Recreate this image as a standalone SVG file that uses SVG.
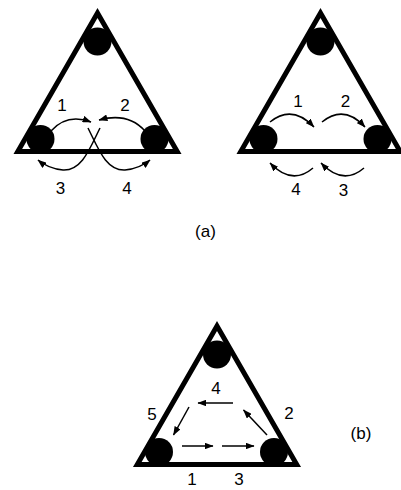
<svg xmlns="http://www.w3.org/2000/svg" width="401" height="490" viewBox="0 0 401 490">
<style>
.tri{fill:none;stroke:#000;stroke-width:5;stroke-linejoin:miter}
.ball{fill:#000}
.arr{fill:none;stroke:#000;stroke-width:1.5;marker-end:url(#ah)}
text{font-family:"Liberation Sans",Arial,sans-serif;font-size:17px;fill:#000;text-anchor:middle}
</style>
<defs>
<marker id="ah" markerUnits="userSpaceOnUse" viewBox="0 0 8 6" markerWidth="9" markerHeight="6.75" refX="7.5" refY="3" orient="auto">
<path d="M0,0 L8,3 L0,6 z" fill="#000"/>
</marker>
</defs>
<rect width="401" height="490" fill="#fff"/>
<g id="tri-a1">
<polygon class="tri" points="97.5,13 17.8,151.5 177.2,151.5"/>
<circle class="ball" cx="97.5" cy="41.5" r="14"/>
<circle class="ball" cx="40.5" cy="139" r="14"/>
<circle class="ball" cx="154.5" cy="139" r="14"/>
</g>
<g id="tri-a2">
<polygon class="tri" points="320.5,13 240.8,151.5 400.2,151.5"/>
<circle class="ball" cx="320.5" cy="41.5" r="14"/>
<circle class="ball" cx="263.5" cy="139" r="14"/>
<circle class="ball" cx="377.5" cy="139" r="14"/>
</g>
<g id="tri-b">
<polygon class="tri" points="217,326 137.3,464.5 296.7,464.5"/>
<circle class="ball" cx="217" cy="354.5" r="14"/>
<circle class="ball" cx="159" cy="452" r="14"/>
<circle class="ball" cx="274" cy="452" r="14"/>
</g>
<g id="connectors">
<path class="arr" d="M51,131 Q67,113 91,122"/>
<path class="arr" d="M145,131 Q128,112 99,120"/>
<path class="arr" d="M88,128 C98,148 106,171 125,170 C136,169 144,165 150,160"/>
<path class="arr" d="M100,128 C90,148 82,171 63,170 C52,169 44,165 38,160"/>
<path class="arr" d="M270,122 Q292,104 314,127"/>
<path class="arr" d="M322,122 Q344,104 365,127"/>
<path class="arr" d="M313,168 Q292,186 270,163"/>
<path class="arr" d="M364,168 Q343,186 321,163"/>
<path class="arr" d="M182,446 L213,446"/>
<path class="arr" d="M222,446 L254,446"/>
<path class="arr" d="M267,435 L243.5,410"/>
<path class="arr" d="M233,403 L198,403"/>
<path class="arr" d="M189,407 L173.5,435"/>
</g>
<g id="labels">
<text x="62" y="111">1</text>
<text x="125" y="111">2</text>
<text x="60.5" y="194">3</text>
<text x="127" y="194">4</text>
<text x="298" y="107">1</text>
<text x="345.5" y="107">2</text>
<text x="296" y="195">4</text>
<text x="343.5" y="196">3</text>
<text x="216" y="394">4</text>
<text x="152" y="420">5</text>
<text x="289" y="419">2</text>
<text x="192" y="485">1</text>
<text x="239" y="485">3</text>
<text x="205.5" y="237">(a)</text>
<text x="361" y="439">(b)</text>
</g>
</svg>
